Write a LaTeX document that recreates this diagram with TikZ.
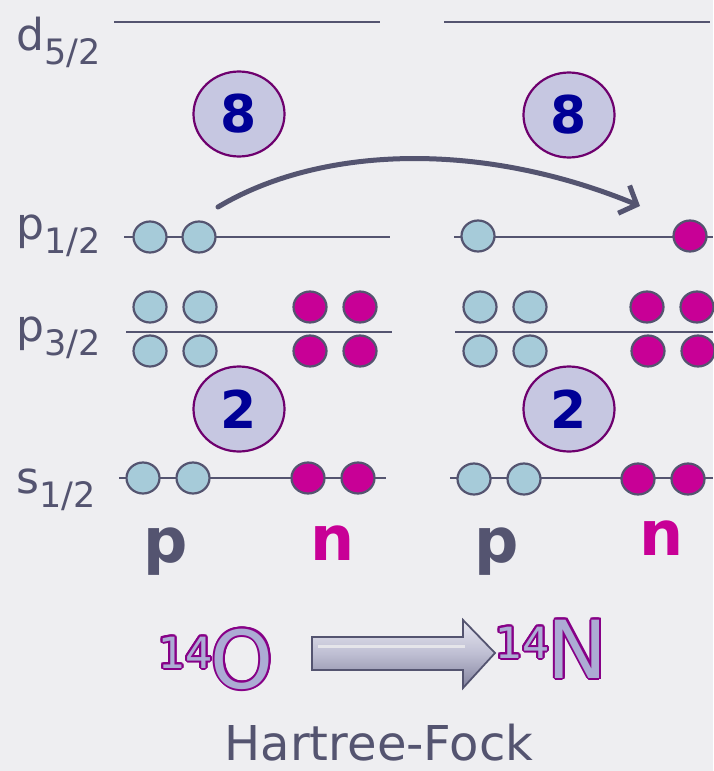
\documentclass[tikz,border=0pt]{standalone}
\usepackage{fontspec}
\setmainfont{DejaVu Sans}
\usepackage{contour}
\contourlength{2pt}
\usetikzlibrary{shapes.geometric,arrows.meta}
\definecolor{bg}{RGB}{238,238,241}
\definecolor{slate}{RGB}{84,84,112}
\definecolor{pblue}{RGB}{166,203,217}
\definecolor{nmag}{RGB}{200,0,150}
\definecolor{ovfill}{RGB}{198,199,225}
\definecolor{ovline}{RGB}{110,0,110}
\definecolor{digblue}{RGB}{0,0,150}
\definecolor{lav}{RGB}{172,172,212}
\definecolor{nucpur}{RGB}{135,0,135}
\definecolor{arlight}{RGB}{232,232,242}
\definecolor{armid}{RGB}{190,190,210}
\definecolor{ardark}{RGB}{130,130,158}
\newcommand\lsub[1]{\raisebox{-14pt}{\fontsize{35}{35}\selectfont #1}}
\newcommand\nuc[2]{\contour{nucpur}{\color{lav}\raisebox{20pt}{\fontsize{43}{43}\selectfont #1}\kern-2pt\fontsize{80}{80}\selectfont #2}}
\tikzset{
  lvl/.style={draw=slate,line width=2.6pt},
  pb/.style={ellipse,draw=slate,line width=2.2pt,fill=pblue,minimum width=33pt,minimum height=31pt,inner sep=0pt},
  nb/.style={pb,fill=nmag},
  shell/.style={ellipse,draw=ovline,line width=2.2pt,fill=ovfill,minimum width=91pt,minimum height=85pt,inner sep=0pt,
    text=digblue,font=\fontsize{52}{52}\selectfont\bfseries},
  lab/.style={anchor=base west,text=slate,inner sep=0pt,font=\fontsize{44}{44}\selectfont},
  big/.style={anchor=base,inner sep=0pt,font=\fontsize{62}{62}\selectfont\bfseries},
}
\begin{document}
\begin{tikzpicture}[x=1pt,y=-1pt]
\fill[bg] (0,0) rectangle (713,771);
\useasboundingbox (0,0) rectangle (713,771);
% labels
\node[lab] (ld) at (16,50) {d\lsub{5/2}};
\node[lab] (lp1) at (16,239) {p\lsub{1/2}};
\node[lab] (lp3) at (16,341) {p\lsub{3/2}};
\node[lab] (ls) at (16,493) {s\lsub{1/2}};
% level lines
\coordinate (dA) at (114,22); \coordinate (dB) at (380,22);
\coordinate (dC) at (444,22); \coordinate (dD) at (710,22);
\coordinate (pA) at (124,237); \coordinate (pB) at (390,237);
\coordinate (pC) at (454,237); \coordinate (pD) at (713,237);
\coordinate (qA) at (126,332); \coordinate (qB) at (392,332);
\coordinate (qC) at (455,332); \coordinate (qD) at (713,332);
\coordinate (sA) at (119,478); \coordinate (sB) at (386,478);
\coordinate (sC) at (450,478); \coordinate (sD) at (713,478);
\draw[lvl] (dA) -- (dB); \draw[lvl] (dC) -- (dD);
\draw[lvl] (pA) -- (pB); \draw[lvl] (pC) -- (pD);
\draw[lvl] (qA) -- (qB); \draw[lvl] (qC) -- (qD);
\draw[lvl] (sA) -- (sB); \draw[lvl] (sC) -- (sD);
% shells
\node[shell] (e8a) at (239,114) {8};
\node[shell] (e8b) at (569,115) {8};
\node[shell] (e2a) at (239,409) {2};
\node[shell] (e2b) at (569,409) {2};
% p1/2
\node[pb] (a1) at (150,237) {};
\node[pb] (a2) at (199,237) {};
\node[pb] (b1) at (478,236) {};
\node[nb] (b2) at (690,236) {};
% p3/2 left
\node[pb] (c1) at (150,307) {};
\node[pb] (c2) at (200,307) {};
\node[nb] (c3) at (310,307) {};
\node[nb] (c4) at (360,307) {};
\node[pb] (c5) at (150,351) {};
\node[pb] (c6) at (200,351) {};
\node[nb] (c7) at (310,351) {};
\node[nb] (c8) at (360,351) {};
% p3/2 right
\node[pb] (d1) at (480,307) {};
\node[pb] (d2) at (530,307) {};
\node[nb] (d3) at (647,307) {};
\node[nb] (d4) at (697,307) {};
\node[pb] (d5) at (480,351) {};
\node[pb] (d6) at (530,351) {};
\node[nb] (d7) at (648,351) {};
\node[nb] (d8) at (698,351) {};
% s1/2
\node[pb] (s1) at (143,478) {};
\node[pb] (s2) at (193,478) {};
\node[nb] (s3) at (308,478) {};
\node[nb] (s4) at (358,478) {};
\node[pb] (t1) at (474,479) {};
\node[pb] (t2) at (524,479) {};
\node[nb] (t3) at (638,479) {};
\node[nb] (t4) at (688,479) {};
% p / n
\node[big,text=slate] (pl) at (166,562) {p};
\node[big,text=nmag] (nl) at (333,560) {n};
\node[big,text=slate] (pr) at (497,562) {p};
\node[big,text=nmag] (nr) at (662,555) {n};
% transfer arrow
\coordinate (arS) at (218,207);
\coordinate (arE) at (640,206);
\draw[slate,line width=5pt,line cap=round,-{Straight Barb[length=14pt,width=30pt,line width=5pt]}]
  (arS) .. controls (320,146) and (480,140) .. (arE);
% nuclei
\node[anchor=base west,inner sep=0pt] (O) at (158,688) {\nuc{14}{O}};
\node[anchor=base west,inner sep=0pt] (N) at (495,678) {\nuc{14}{N}};
% big arrow
\coordinate (ba1) at (312,637); \coordinate (ba2) at (463,637); \coordinate (ba3) at (463,620);
\coordinate (ba4) at (495,653); \coordinate (ba5) at (463,688); \coordinate (ba6) at (463,670);
\coordinate (ba7) at (312,670);
\path[draw=slate,line width=1.8pt,line join=miter,top color=arlight,bottom color=ardark,middle color=armid]
  (ba1) -- (ba2) -- (ba3) -- (ba4) -- (ba5) -- (ba6) -- (ba7) -- cycle;
\draw[white!85!slate,line width=3pt] (318,646) -- (465,646);
% caption
\node[anchor=base,text=slate,inner sep=0pt,font=\fontsize{48}{48}\selectfont] (hf) at (379,760) {Hartree-Fock};
\end{tikzpicture}
\end{document}
